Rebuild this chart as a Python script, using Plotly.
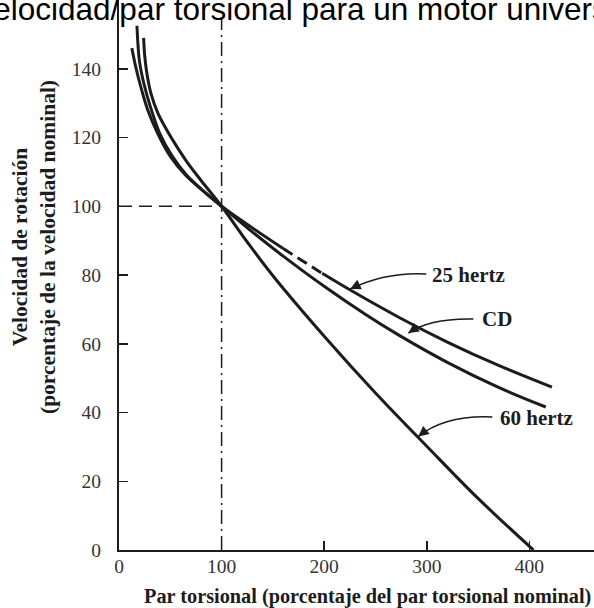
import plotly.graph_objects as go

# ---------------- data ----------------
hz25_x = [12.5, 16, 21, 28, 38, 50, 65, 80, 100, 130, 160, 198, 225, 274, 320, 370, 422]
hz25_y = [146, 141, 135, 128, 121, 114.5, 109, 105, 100, 93.7, 87.7, 80.5, 75.7, 67.5, 60.5, 53.7, 47.4]
hz25_dash_from = 160
hz25_dash_to = 198

cd_x = [17.5, 18.5, 20, 24, 30, 40, 52, 66, 82, 100, 128, 160, 201, 240, 274, 320, 370, 416]
cd_y = [152.5, 147, 142, 136, 129.5, 121, 114.5, 109, 104.5, 100, 93, 85.5, 76.5, 68.6, 62.3, 54.6, 47.3, 41.6]

hz60_x = [24, 25, 27, 31, 38, 46, 55, 66, 80, 100, 125, 150, 200, 250, 300, 350, 404]
hz60_y = [149, 144, 139, 133, 127, 122.5, 118, 113, 107.5, 100, 89.6, 79.8, 62.2, 45.7, 30.2, 15.0, 0]

nominal = 100
x_ticks = [0, 100, 200, 300, 400]
y_ticks = [0, 20, 40, 60, 80, 100, 120, 140]

title_text = "Velocidad/par torsional para un motor universal"
x_title = "Par torsional (porcentaje del par torsional nominal)"
y_title = "Velocidad de rotación<br>(porcentaje de la velocidad nominal)"
labels = ["25 hertz", "CD", "60 hertz"]

# ---------------- figure ----------------
INK = "#1c1c1c"
SERIF = "Liberation Serif, Times New Roman, serif"
W, H = 594, 608
L, R, T, B = 119, 0, 0, 58
XMAX, YMAX = 463, 160

fig = go.Figure()

def line(x, y, dash="solid"):
    fig.add_trace(go.Scatter(x=x, y=y, mode="lines", showlegend=False, hoverinfo="skip",
                             line=dict(color=INK, width=3, shape="spline", smoothing=1.0, dash=dash)))

# 25 Hz: solid / dashed / solid pieces
p1 = [(a, b) for a, b in zip(hz25_x, hz25_y) if a <= hz25_dash_from]
p2 = [(a, b) for a, b in zip(hz25_x, hz25_y) if hz25_dash_from <= a <= hz25_dash_to]
p3 = [(a, b) for a, b in zip(hz25_x, hz25_y) if a >= hz25_dash_to]
for seg, d in ((p1, "solid"), (p2, "11px,6px"), (p3, "solid")):
    line([s[0] for s in seg], [s[1] for s in seg], d)
line(cd_x, cd_y)
line(hz60_x, hz60_y)

# reference lines at nominal values
fig.add_shape(type="line", x0=0, x1=nominal, y0=nominal, y1=nominal,
              line=dict(color=INK, width=1.5, dash="13px,7px"))
fig.add_shape(type="line", x0=nominal, x1=nominal, y0=0, y1=155,
              line=dict(color=INK, width=1.5, dash="14px,5px,2px,5px"))

# call-out labels with curved arrows
callouts = [
    # label, text x, text y, start, control, tip
    (labels[0], 303.4, 80.0, (299.5, 80.3), (259.5, 80.9), (225.4, 75.9)),
    (labels[1], 352.2, 67.2, (345.4, 67.2), (303.4, 67.5), (282.0, 63.1)),
    (labels[2], 369.8, 38.4, (363.9, 38.7), (318.0, 39.3), (291.7, 33.0)),
]
sx = (W - L - R) / XMAX
sy = (H - T - B) / YMAX
for txt, tx, ty, s, c, t in callouts:
    fig.add_annotation(x=tx, y=ty, text=txt, showarrow=False, xanchor="left", yanchor="middle",
                       font=dict(family=SERIF, size=21, color=INK, weight="bold"))
    fig.add_shape(type="path", path=f"M {s[0]},{s[1]} Q {c[0]},{c[1]} {t[0]},{t[1]}",
                  line=dict(color=INK, width=1.6))
    dx, dy = (c[0] - t[0]) * sx, -(c[1] - t[1]) * sy
    n = (dx * dx + dy * dy) ** 0.5
    fig.add_annotation(x=t[0], y=t[1], text="", showarrow=True, ax=dx / n * 9, ay=dy / n * 9,
                       arrowhead=2, arrowsize=1.3, arrowwidth=1.6, arrowcolor=INK, standoff=0)

# titles
PW = W - L - R
fig.add_annotation(xref="paper", yref="paper", x=(303 - L) / PW, y=1, yshift=-9,
                   text=title_text, showarrow=False, xanchor="center", yanchor="middle",
                   font=dict(family="Liberation Sans, Arial, sans-serif", size=31.5, color="black"))
fig.add_annotation(xref="paper", yref="paper", x=(367 - L) / PW, y=(550 - 596) / 550,
                   text=x_title, showarrow=False, xanchor="center", yanchor="middle",
                   font=dict(family=SERIF, size=20.3, color=INK, weight="bold"))
fig.add_annotation(xref="paper", yref="paper", x=(34 - L) / PW, y=(550 - 247) / 550,
                   text=y_title, showarrow=False, xanchor="center", yanchor="middle", textangle=-90,
                   font=dict(family=SERIF, size=21.5, color=INK, weight="bold"))

axis_common = dict(showgrid=False, zeroline=False, showline=True, linecolor=INK, linewidth=2,
                   ticks="inside", ticklen=9, tickwidth=1.5, tickcolor=INK, automargin=False,
                   tickfont=dict(family=SERIF, size=19.5, color="#333"))
fig.update_xaxes(range=[0, XMAX], tickvals=x_ticks, ticklabelstandoff=-2, **axis_common)
fig.update_yaxes(range=[0, YMAX], tickvals=y_ticks, ticklabelstandoff=12, **axis_common)

fig.update_layout(width=W, height=H, margin=dict(l=L, r=R, t=T, b=B, pad=0),
                  plot_bgcolor="white", paper_bgcolor="white", showlegend=False)

fig.write_html("out.html", config={"displayModeBar": False, "staticPlot": True},
               post_script="document.body.style.margin='0';")
